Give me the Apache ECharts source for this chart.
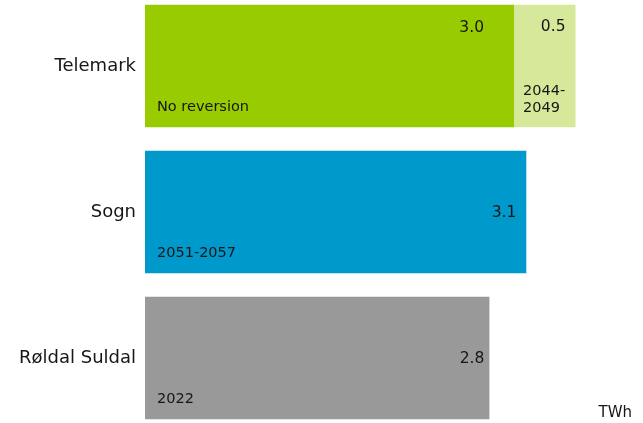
<!DOCTYPE html>
<html>
<head>
<meta charset="utf-8">
<script src="https://cdn.jsdelivr.net/npm/echarts@6/dist/echarts.min.js"></script>
<style>
  html, body { margin: 0; padding: 0; background: #fff; }
  #chart { width: 643px; height: 423px; }
</style>
</head>
<body>
<div id="chart"></div>
<script>
// Power plants and their volumes (TWh)
const plants = ['Telemark', 'Sogn', 'Røldal Suldal'];
const baseVolume = [3.0, 3.1, 2.8];
const extraVolume = [0.5, null, null];
const reversionNote = ['No reversion', '2051-2057', '2022'];
const extraNote = ['2044-\n2049', null, null];
const unitLabel = 'TWh';

const baseColors = ['#99CC00', '#0099CC', '#999999'];
const extraColor = '#D6E99A';
const font = 'DejaVu Sans, Verdana, sans-serif';
const textColor = '#161616';

// value label placement per bar
const baseLabelPos = ['insideTopRight', 'insideRight', 'insideRight'];
const baseLabelOffset = [[-30, 15], [-10, 1], [-5, 1]];

const chart = echarts.init(document.getElementById('chart'));

const baseData = baseVolume.map((v, i) => ({
  value: v,
  itemStyle: { color: baseColors[i] },
  label: {
    show: true,
    position: baseLabelPos[i],
    distance: 0,
    offset: baseLabelOffset[i],
    formatter: (p) => p.value.toFixed(1)
  }
}));

const extraData = extraVolume.map((v) => v == null ? null : {
  value: v,
  label: {
    show: true,
    position: 'insideTopRight',
    distance: 0,
    offset: [-10, 14],
    formatter: (p) => p.value.toFixed(1)
  }
});

// transparent overlay bars that carry the period notes
const noteBaseData = baseVolume.map((v, i) => ({
  value: v,
  label: {
    show: true,
    position: 'insideBottomLeft',
    distance: 0,
    offset: [12, -13],
    formatter: () => reversionNote[i]
  }
}));
const noteExtraData = extraVolume.map((v, i) => v == null ? null : {
  value: v,
  label: {
    show: true,
    position: 'insideBottomLeft',
    distance: 0,
    offset: [9, -11],
    lineHeight: 17,
    formatter: () => extraNote[i]
  }
});

chart.setOption({
  animation: false,
  backgroundColor: '#fff',
  textStyle: { fontFamily: font },
  title: {
    text: unitLabel,
    right: 6,
    bottom: -3,
    textStyle: { fontFamily: font, fontSize: 15, fontWeight: 'normal', color: textColor }
  },
  grid: {
    left: 145,
    right: 6,
    top: -7,
    height: 438,
    outerBoundsMode: 'none',
    containLabel: false
  },
  xAxis: {
    type: 'value',
    min: 0,
    max: 4,
    show: false
  },
  yAxis: {
    type: 'category',
    data: plants,
    inverse: true,
    axisLine: { show: false },
    axisTick: { show: false },
    splitLine: { show: false },
    axisLabel: {
      margin: 9,
      fontSize: 18,
      padding: [5, 0, 0, 0],
      color: textColor,
      fontFamily: font
    }
  },
  series: [
    {
      type: 'bar',
      stack: 'volume',
      barCategoryGap: '16%',
      barGap: '-100%',
      data: baseData,
      label: { fontSize: 15.5, color: textColor, fontFamily: font }
    },
    {
      type: 'bar',
      stack: 'volume',
      itemStyle: { color: extraColor },
      data: extraData,
      label: { fontSize: 15.5, color: textColor, fontFamily: font }
    },
    {
      type: 'bar',
      stack: 'notes',
      silent: true,
      itemStyle: { color: 'rgba(0,0,0,0)' },
      data: noteBaseData,
      label: { fontSize: 14.5, color: textColor, fontFamily: font }
    },
    {
      type: 'bar',
      stack: 'notes',
      silent: true,
      itemStyle: { color: 'rgba(0,0,0,0)' },
      data: noteExtraData,
      label: { fontSize: 14.5, color: textColor, fontFamily: font }
    }
  ]
});
</script>
</body>
</html>
